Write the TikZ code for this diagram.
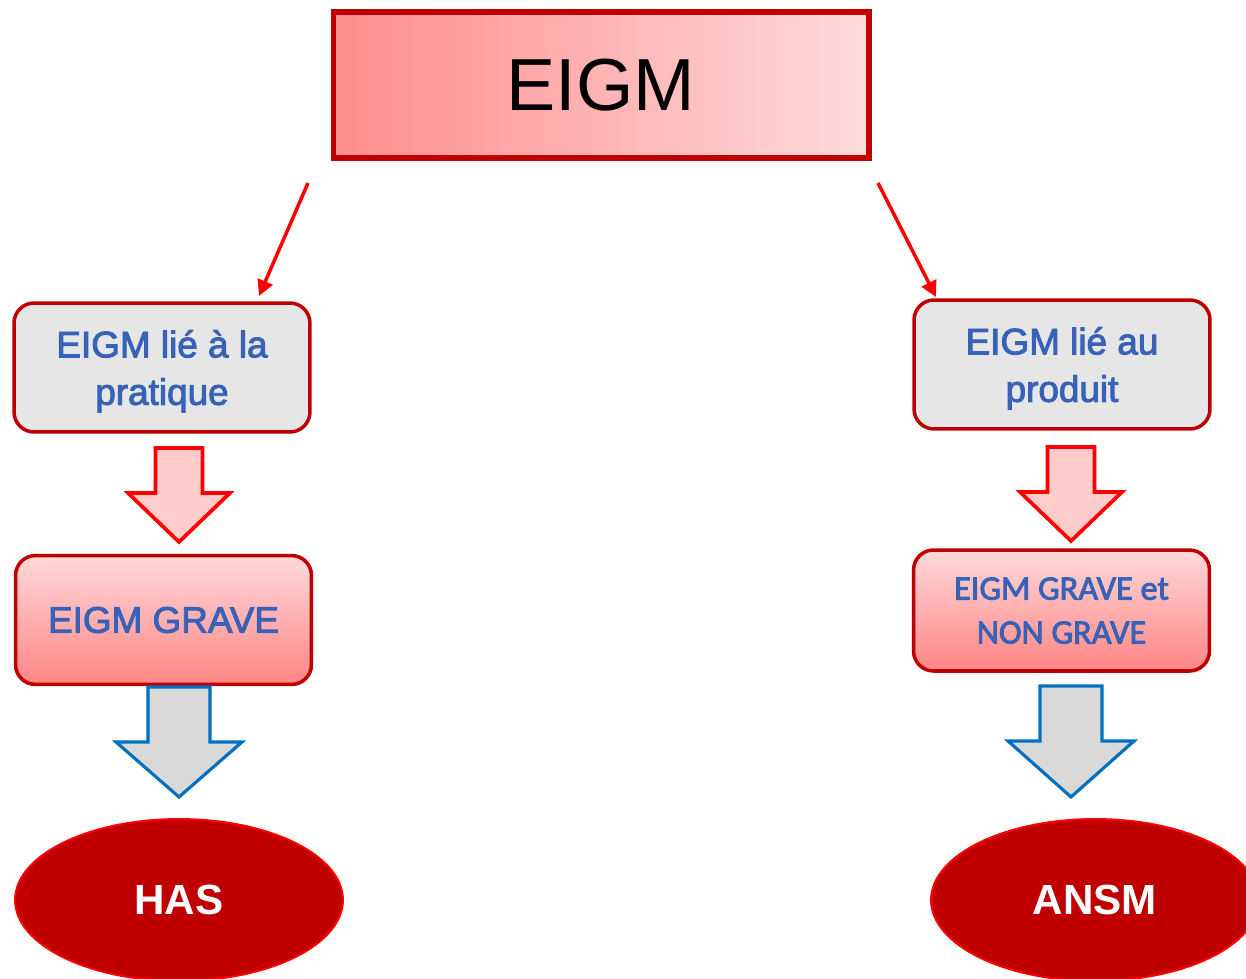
\documentclass[tikz,border=0pt]{standalone}
\usepackage{fontspec}
\setmainfont{Liberation Sans}
\newfontfamily\boldishfont[FakeBold=2.6]{Liberation Sans}
\newfontfamily\carlitofont[FakeBold=2.6]{Carlito}
\usetikzlibrary{arrows.meta,shapes.geometric}
\definecolor{eigmred}{HTML}{C00000}
\definecolor{brightred}{HTML}{FF0000}
\definecolor{textblue}{HTML}{3762B8}
\definecolor{arrowblue}{HTML}{0070C0}
\definecolor{boxgray}{HTML}{E6E6E6}
\definecolor{pinkfill}{HTML}{FFCCCC}
\definecolor{arrowgray}{HTML}{D9D9D9}
\tikzset{
  title box/.style={
    draw=eigmred, line width=2.9pt,
    left color=red!45!white, right color=red!14!white,
    minimum width=10.72cm, minimum height=2.92cm,
    font=\fontsize{42}{50}\selectfont,
  },
  case box/.style={
    rounded corners=0.4cm, draw=eigmred, line width=2pt,
    minimum width=5.92cm, minimum height=2.58cm,
    text=textblue, align=center,
  },
  gray box/.style={
    case box, fill=boxgray, text depth=0pt,
    font=\boldishfont\fontsize{21}{27}\selectfont,
  },
  grave box/.style={
    case box, top color=red!15!white, bottom color=red!48!white,
  },
  agency/.style={
    ellipse, draw=brightred, line width=1.1pt, fill=eigmred,
    minimum width=6.56cm, minimum height=3.24cm,
    text=white, font=\bfseries\fontsize{24}{28}\selectfont,
  },
  thin arrow/.style={
    draw=brightred, line width=2pt,
    -{Triangle[length=9pt,width=9pt]},
  },
  red block/.style={draw=brightred, fill=pinkfill, line width=2.1pt},
  blue block/.style={draw=arrowblue, fill=arrowgray, line width=1.8pt},
  pics/block arrow/.style n args={4}{code={
    \path[pic actions] (-#1,0) -- (-#1,#3) -- (-#2,#3) -- (0,#4)
      -- (#2,#3) -- (#1,#3) -- (#1,0) -- cycle;
  }},
}

\begin{document}
\begin{tikzpicture}[x=0.02cm, y=-0.02cm]
  \useasboundingbox (0,0) rectangle (1246,979);
  \clip (0,0) rectangle (1246,979);

  \node [title box] (eigm) at (601,85) {EIGM};

  \node [gray box] (pratique) at (162,367.5) {EIGM lié à la\\pratique};
  \node [gray box] (produit) at (1062,364.5) {EIGM lié au\\produit};

  \node [grave box, font=\boldishfont\fontsize{21}{27}\selectfont] (grave) at (163.5,620) {EIGM GRAVE};
  \node [grave box, minimum height=2.42cm, text depth=0pt, font=\carlitofont\fontsize{19.5}{25}\selectfont]
    (nongrave) at (1061.5,610.5) {EIGM GRAVE et\\NON GRAVE};

  \node [agency] (has) at (179,900) {HAS};
  \node [agency] (ansm) at (1095,900) {ANSM};

  % arrows from the title
  \coordinate (l from) at (308,183);
  \coordinate (l to) at (259,296);
  \coordinate (r from) at (878,183);
  \coordinate (r to) at (936,297);
  \draw [thin arrow] (l from) -- (l to);
  \draw [thin arrow] (r from) -- (r to);

  % block arrows
  \pic (red left) [red block] at (179,448) {block arrow={23.5}{51}{45}{94}};
  \pic (red right) [red block] at (1071,447) {block arrow={23.5}{51}{45}{94}};
  \pic (blue left) [blue block] at (179,687) {block arrow={31}{63}{55}{110}};
  \pic (blue right) [blue block] at (1071,686) {block arrow={31}{63}{55}{111}};
\end{tikzpicture}
\end{document}
